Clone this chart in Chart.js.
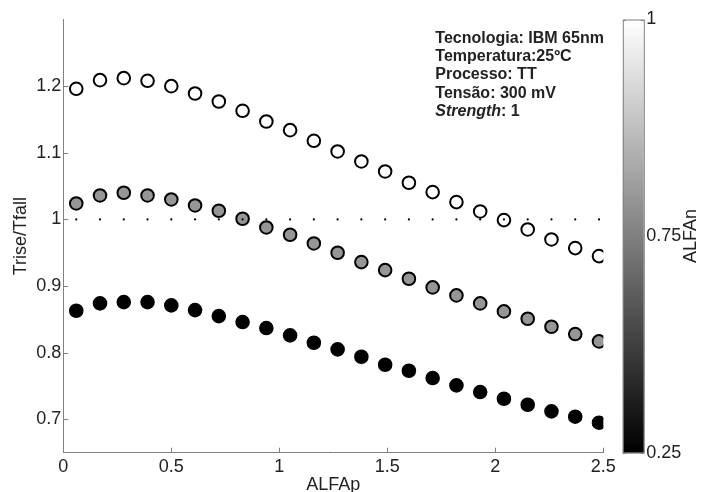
<!DOCTYPE html>
<html>
<head>
<meta charset="utf-8">
<script src="https://cdn.jsdelivr.net/npm/chart.js@4"></script>
<style>
  html, body { margin: 0; padding: 0; background: #fff; }
  #wrap { width: 702px; height: 492px; position: relative; }
</style>
</head>
<body>
<div id="wrap"><canvas id="grafico"></canvas></div>
<script>
// eixo x: ALFAp
var alfaP = [0.06, 0.17, 0.28, 0.39, 0.50, 0.61, 0.72, 0.83, 0.94, 1.05, 1.16, 1.27,
             1.38, 1.49, 1.60, 1.71, 1.82, 1.93, 2.04, 2.15, 2.26, 2.37, 2.48];

// Trise/Tfall para cada ALFAn
var ratioN100 = [1.196, 1.209, 1.212, 1.208, 1.200, 1.189, 1.177, 1.163, 1.147, 1.134, 1.118, 1.102,
                 1.087, 1.072, 1.055, 1.041, 1.026, 1.012, 0.999, 0.985, 0.970, 0.957, 0.945];
var ratioN075 = [1.024, 1.036, 1.040, 1.036, 1.030, 1.021, 1.013, 1.001, 0.988, 0.977, 0.964, 0.950,
                 0.936, 0.924, 0.911, 0.898, 0.886, 0.874, 0.862, 0.851, 0.839, 0.828, 0.817];
var ratioN025 = [0.863, 0.874, 0.876, 0.876, 0.871, 0.864, 0.855, 0.846, 0.837, 0.826, 0.815, 0.805,
                 0.794, 0.782, 0.773, 0.762, 0.751, 0.741, 0.731, 0.722, 0.712, 0.704, 0.695];

// linha pontilhada de referencia (Trise = Tfall)
var refLevel = 1;

var xTicks = [0, 0.5, 1, 1.5, 2, 2.5];
var yTicks = [0.7, 0.8, 0.9, 1, 1.1, 1.2];
var cbarTicks = ['1', '0.75', '0.25'];

var infoLines = ['Tecnologia: IBM 65nm', 'Temperatura:25ºC', 'Processo: TT', 'Tensão: 300 mV', '*Strength*: 1'];

var FONT = '"Liberation Sans", Arial, Helvetica, sans-serif';
Chart.defaults.font.family = FONT;
Chart.defaults.font.size = 18;
Chart.defaults.color = '#222';

function pts(ys) {
  return alfaP.map(function(x, i) { return { x: x, y: ys[i] }; });
}

// ticks para dentro, barra de cores, textos
var extras = {
  id: 'extras',
  afterDraw: function(chart) {
    var ctx = chart.ctx, a = chart.chartArea;
    var sx = chart.scales.x, sy = chart.scales.y, sc = chart.scales.cbar;
    ctx.save();

    // ticks internos
    ctx.strokeStyle = '#808080';
    ctx.lineWidth = 1;
    ctx.beginPath();
    xTicks.forEach(function(v) {
      var px = Math.round(sx.getPixelForValue(v)) + 0.5;
      ctx.moveTo(px, a.bottom); ctx.lineTo(px, a.bottom - 5);
    });
    yTicks.forEach(function(v) {
      var py = Math.round(sy.getPixelForValue(v)) + 0.5;
      ctx.moveTo(a.left, py); ctx.lineTo(a.left + 5, py);
    });
    ctx.stroke();

    // barra de cores
    var bx = sc.left + 19.5, bw = 21, bt = sc.top, bh = sc.bottom - sc.top;
    var g = ctx.createLinearGradient(0, bt, 0, bt + bh);
    g.addColorStop(0, '#ffffff');
    g.addColorStop(1, '#000000');
    ctx.fillStyle = g;
    ctx.fillRect(bx, bt, bw, bh);
    ctx.strokeStyle = '#808080';
    ctx.strokeRect(bx + 0.5, bt + 0.5, bw, bh);
    ctx.beginPath();
    cbarTicks.forEach(function(t, i) {
      var py = Math.round(sc.getPixelForTick(i)) + 0.5;
      ctx.moveTo(bx, py); ctx.lineTo(bx + 3, py);
      ctx.moveTo(bx + bw, py); ctx.lineTo(bx + bw - 3, py);
    });
    ctx.stroke();

    // titulo da barra
    ctx.fillStyle = '#222';
    ctx.font = '18px ' + FONT;
    ctx.textAlign = 'center';
    ctx.textBaseline = 'middle';
    ctx.save();
    ctx.translate(sc.left + 88, (sc.top + sc.bottom) / 2);
    ctx.rotate(-Math.PI / 2);
    ctx.fillText('ALFAn', 0, 0);
    ctx.restore();

    // caixa de informacoes
    ctx.textAlign = 'left';
    ctx.textBaseline = 'alphabetic';
    var tx = a.left + 372, ty = a.top + 23.2;
    infoLines.forEach(function(line, i) {
      var parts = line.split('*');
      var x = tx;
      parts.forEach(function(p, j) {
        ctx.font = (j % 2 ? 'italic ' : '') + 'bold 16px ' + FONT;
        ctx.fillText(p, x, ty + i * 18.3);
        x += ctx.measureText(p).width;
      });
    });
    ctx.restore();
  }
};

var ctx = document.getElementById('grafico').getContext('2d');
var grafico = new Chart(ctx, {
  type: 'scatter',
  data: {
    datasets: [
      {
        label: 'ref',
        data: alfaP.map(function(x) { return { x: x, y: refLevel }; }),
        pointRadius: 1.1,
        pointBackgroundColor: '#000',
        pointBorderWidth: 0,
        order: 0
      },
      {
        label: 'ALFAn = 1',
        data: pts(ratioN100),
        pointRadius: 6.3,
        pointBorderWidth: 2,
        pointBackgroundColor: '#ffffff',
        pointBorderColor: '#000',
        order: 1
      },
      {
        label: 'ALFAn = 0.75',
        data: pts(ratioN075),
        pointRadius: 6.3,
        pointBorderWidth: 2,
        pointBackgroundColor: '#969696',
        pointBorderColor: '#000',
        order: 2
      },
      {
        label: 'ALFAn = 0.25',
        data: pts(ratioN025),
        pointRadius: 6.3,
        pointBorderWidth: 2,
        pointBackgroundColor: '#000',
        pointBorderColor: '#000',
        order: 3
      }
    ]
  },
  options: {
    responsive: true,
    maintainAspectRatio: false,
    animation: false,
    devicePixelRatio: 1,
    layout: { padding: { top: 19.5, left: 0, right: 0, bottom: 0 } },
    plugins: { legend: { display: false }, tooltip: { enabled: false } },
    scales: {
      x: {
        type: 'linear',
        position: 'bottom',
        min: 0, max: 2.5,
        afterBuildTicks: function(s) { s.ticks = xTicks.map(function(v) { return { value: v }; }); },
        afterFit: function(s) { s.height = 39.3; },
        ticks: { padding: 4, maxRotation: 0, callback: function(v) { return String(v); } },
        grid: { display: false, drawTicks: false },
        border: { display: true, color: '#808080', width: 1 },
        title: { display: true, text: 'ALFAp', padding: { top: 0, bottom: -4 } }
      },
      y: {
        type: 'linear',
        position: 'left',
        min: 0.65, max: 1.3,
        afterBuildTicks: function(s) { s.ticks = yTicks.map(function(v) { return { value: v }; }); },
        afterFit: function(s) { s.width = 63.3; s.paddingTop = 0; s.paddingBottom = 0; },
        ticks: { padding: 2, callback: function(v) { return String(v); } },
        grid: { display: false, drawTicks: false },
        border: { display: true, color: '#808080', width: 1 },
        title: { display: true, text: 'Trise/Tfall', padding: { top: 10, bottom: 0 } }
      },
      cbar: {
        type: 'category',
        position: 'right',
        labels: cbarTicks,
        offset: false,
        afterFit: function(s) { s.width = 98.7; s.paddingTop = 0; s.paddingBottom = 0; },
        ticks: { padding: 43, autoSkip: false },
        grid: { display: false, drawTicks: false },
        border: { display: false }
      }
    }
  },
  plugins: [extras]
});
</script>
</body>
</html>
